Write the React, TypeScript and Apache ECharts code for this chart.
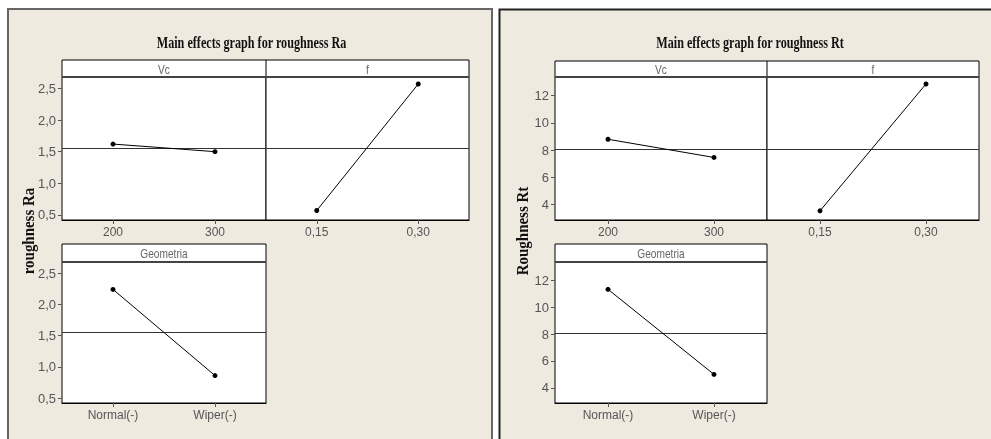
import React, { useEffect, useRef } from "react";
import * as echarts from "echarts";

// ---- data ----
const vcLevels = ["200", "300"];
const fLevels = ["0,15", "0,30"];
const geoLevels = ["Normal(-)", "Wiper(-)"];

const raVc = [1.62, 1.5];
const raF = [0.57, 2.57];
const raGeo = [2.24, 0.86];
const raMean = [1.555];
const raTicks = [0.5, 1.0, 1.5, 2.0, 2.5];
const raRange = [0.42, 2.68];

const rtVc = [8.79, 7.46];
const rtF = [3.55, 12.84];
const rtGeo = [11.32, 5.0];
const rtMean = [8.07];
const rtTicks = [4, 6, 8, 10, 12];
const rtRange = [2.88, 13.35];

const titles = ["Main effects graph for roughness Ra", "Main effects graph for roughness Rt"];
const yNames = ["roughness Ra", "Roughness Rt"];
const factorNames = ["Vc", "f", "Geometria"];

const SANS = '"Liberation Sans", Arial, sans-serif';
const SERIF = '"Liberation Serif", "Times New Roman", serif';
const LABEL = "#555555";

export default function App() {
  const ref = useRef<HTMLDivElement>(null);

  useEffect(() => {
    if (!ref.current) return;
    const chart = echarts.init(ref.current, undefined, { renderer: "svg" });

    // panel layout (pixels)
    const panels = [
      { l: 62, top: 77, w: 204, h: 143 },
      { l: 266, top: 77, w: 203, h: 143 },
      { l: 62, top: 262, w: 204, h: 141 },
      { l: 555, top: 77, w: 212, h: 143 },
      { l: 767, top: 77, w: 212, h: 143 },
      { l: 555, top: 262, w: 212, h: 141 },
    ];
    const cats = [vcLevels, fLevels, geoLevels, vcLevels, fLevels, geoLevels];
    const vals = [raVc, raF, raGeo, rtVc, rtF, rtGeo];
    const means = [raMean[0], raMean[0], raMean[0], rtMean[0], rtMean[0], rtMean[0]];

    const fmtRa = (v: number) => v.toFixed(1).replace(".", ",");
    const fmtRt = (v: number) => String(Math.round(v));

    const grid = panels.map((p) => ({
      left: p.l,
      top: p.top,
      width: p.w,
      height: p.h,
      show: true,
      backgroundColor: "#ffffff",
      borderColor: "#000000",
      borderWidth: 1,
    }));

    const xAxis = panels.map((_, i) => ({
      type: "category",
      gridIndex: i,
      data: cats[i],
      boundaryGap: true,
      axisLine: { show: true, lineStyle: { color: "#000", width: 1 } },
      axisTick: { show: true, alignWithLabel: true, length: 4, lineStyle: { color: "#555" } },
      axisLabel: { show: true, margin: 6, fontSize: 12, color: LABEL, fontFamily: SANS, interval: 0 },
      splitLine: { show: false },
    }));

    const yAxis = panels.map((_, i) => {
      const isRa = i < 3;
      const showAx = i !== 1 && i !== 4;
      return {
        type: "value",
        gridIndex: i,
        show: showAx,
        min: isRa ? raRange[0] : rtRange[0],
        max: isRa ? raRange[1] : rtRange[1],
        axisLine: { show: false },
        axisTick: {
          show: true,
          length: 4,
          customValues: isRa ? raTicks : rtTicks,
          lineStyle: { color: "#555" },
        },
        axisLabel: {
          show: true,
          margin: 6,
          fontSize: 13,
          color: LABEL,
          fontFamily: SANS,
          customValues: isRa ? raTicks : rtTicks,
          formatter: isRa ? fmtRa : fmtRt,
        },
        splitLine: { show: false },
      };
    });

    const series = panels.map((_, i) => ({
      type: "line",
      xAxisIndex: i,
      yAxisIndex: i,
      data: vals[i],
      symbol: "circle",
      symbolSize: 5,
      itemStyle: { color: "#000" },
      lineStyle: { color: "#000", width: 1 },
      z: 5,
      markLine: {
        silent: true,
        symbol: "none",
        label: { show: false },
        lineStyle: { color: "#333", width: 1, type: "solid" },
        data: [{ yAxis: means[i] }],
      },
    }));

    const headerRect = (x: number, y: number, w: number, h: number) => ({
      type: "rect",
      z: 10,
      shape: { x, y, width: w, height: h },
      style: { fill: "#fff", stroke: "#000", lineWidth: 1 },
    });
    const hLine = (x1: number, x2: number, y: number) => ({
      type: "line",
      z: 11,
      shape: { x1, y1: y, x2, y2: y },
      style: { stroke: "#444", lineWidth: 2 },
    });
    const vLine = (x: number, y1: number, y2: number) => ({
      type: "line",
      z: 11,
      shape: { x1: x, y1, x2: x, y2 },
      style: { stroke: "#000", lineWidth: 1 },
    });
    const headerText = (t: string, x: number, y: number) => ({
      type: "text",
      z: 12,
      x,
      y,
      scaleX: 0.78,
      style: {
        text: t,
        font: `13px ${SANS}`,
        fill: "#666",
        textAlign: "center",
        textVerticalAlign: "middle",
      },
    });
    const titleText = (t: string, x: number, y: number) => ({
      type: "text",
      z: 12,
      x,
      y,
      scaleX: 0.76,
      style: {
        text: t,
        font: `bold 16px ${SERIF}`,
        fill: "#111",
        textAlign: "center",
        textVerticalAlign: "middle",
      },
    });
    const yNameText = (t: string, x: number, y: number) => ({
      type: "text",
      z: 12,
      x,
      y,
      rotation: Math.PI / 2,
      scaleX: 0.88,
      style: {
        text: t,
        font: `bold 17px ${SERIF}`,
        fill: "#111",
        textAlign: "center",
        textVerticalAlign: "middle",
      },
    });

    const graphic = [
      {
        type: "rect",
        z: -10,
        shape: { x: 0, y: 0, width: 991, height: 439 },
        style: { fill: "#ffffff" },
      },
      {
        type: "rect",
        z: -9,
        shape: { x: 8, y: 9, width: 484, height: 450 },
        style: { fill: "#eeeae0", stroke: "#666", lineWidth: 2 },
      },
      {
        type: "rect",
        z: -9,
        shape: { x: 499.5, y: 9.5, width: 520, height: 450 },
        style: { fill: "#eeeae0", stroke: "#222", lineWidth: 2 },
      },
      // left chart headers
      headerRect(62, 60, 407, 17),
      vLine(266, 60, 77),
      hLine(62, 469, 77),
      headerText(factorNames[0], 164, 68.5),
      headerText(factorNames[1], 367.5, 68.5),
      headerRect(62, 244, 204, 18),
      hLine(62, 266, 262),
      headerText(factorNames[2], 164, 253),
      // right chart headers
      headerRect(555, 61, 424, 16),
      vLine(767, 61, 77),
      hLine(555, 979, 77),
      headerText(factorNames[0], 661, 69),
      headerText(factorNames[1], 873, 69),
      headerRect(555, 244, 212, 18),
      hLine(555, 767, 262),
      headerText(factorNames[2], 661, 253),
      // titles
      titleText(titles[0], 251.5, 42),
      titleText(titles[1], 750, 42),
      yNameText(yNames[0], 28, 231),
      yNameText(yNames[1], 522, 231),
    ];

    chart.setOption({
      animation: false,
      grid,
      xAxis,
      yAxis,
      series,
      graphic,
    } as any);

    return () => chart.dispose();
  }, []);

  return (
    <div
      ref={ref}
      style={{ position: "fixed", left: 0, top: 0, width: 991, height: 439 }}
    />
  );
}
